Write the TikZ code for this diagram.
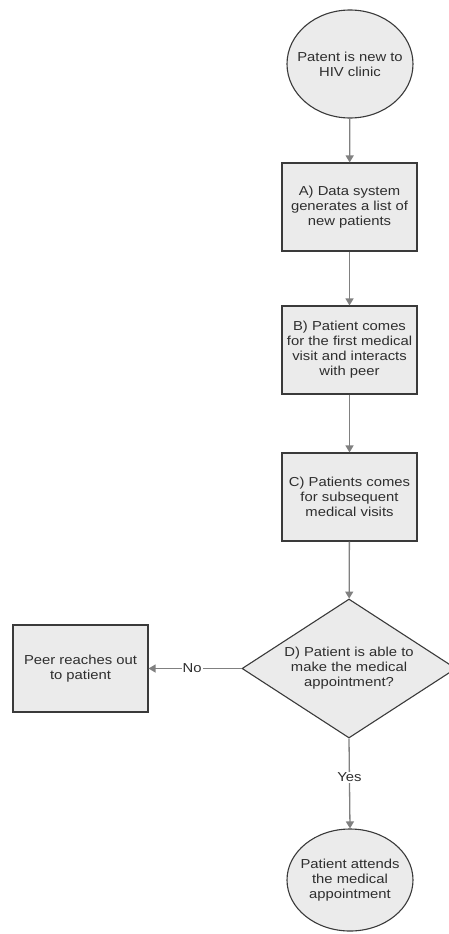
\documentclass[tikz,border=0pt]{standalone}
\usepackage{fontspec}
\setmainfont{Liberation Sans}[FakeStretch=1.14]
\usetikzlibrary{shapes.geometric,arrows.meta}
\definecolor{boxfill}{HTML}{EBEBEB}
\definecolor{boxline}{HTML}{3A3A3A}
\definecolor{arrowc}{HTML}{808080}
\definecolor{txt}{HTML}{2E2E2E}
\begin{document}
\begin{tikzpicture}[x=1pt,y=-1pt,
  base/.style={draw=boxline,fill=boxfill,line width=1.1pt,text=txt,align=center,
    font=\fontsize{13}{15}\selectfont,inner sep=0pt},
  oval/.style={base,ellipse},
  ovaltext/.style={label={[text=txt,align=center,font=\fontsize{13}{15}\selectfont,inner sep=0pt]center:#1}},
  stepbox/.style={base,rectangle,minimum width=135pt,minimum height=88pt},
  decision/.style={base,diamond,shape aspect=1.54},
  conn/.style={draw=arrowc,line width=1.3pt,-{Triangle[width=8pt,length=7pt]}},
  lbl/.style={fill=white,text=txt,font=\fontsize{13}{15}\selectfont,inner sep=1pt}]
\useasboundingbox (0,0) rectangle (449,934);
\node[oval,minimum width=126pt,minimum height=108pt,ovaltext={Patent is new to\\HIV clinic}] (start) at (350,64) {};
\node[stepbox] (A) at (349.5,207) {A) Data system\\generates a list of\\new patients};
\node[stepbox] (B) at (349.5,350) {B) Patient comes\\for the first medical\\visit and interacts\\with peer};
\node[stepbox] (C) at (349.5,497) {C) Patients comes\\for subsequent\\medical visits};
\node[decision,minimum width=214pt,minimum height=139pt] (D) at (349,668.5) {D) Patient is able to\\make the medical\\appointment?};
\node[stepbox,minimum height=87pt] (peer) at (80.5,668.5) {Peer reaches out\\to patient};
\node[oval,minimum width=126pt,minimum height=102pt,ovaltext={Patient attends\\the medical\\appointment}] (end) at (350,880) {};
\draw[conn] (start) -- (A);
\draw[conn] (A) -- (B);
\draw[conn] (B) -- (C);
\draw[conn] (C) -- (D);
\draw[conn] (D.west) -- node[lbl,pos=0.53]{No} (peer.east);
\draw[conn] (D.south) -- node[lbl,pos=0.43]{Yes} (end.north);
\end{tikzpicture}
\end{document}
